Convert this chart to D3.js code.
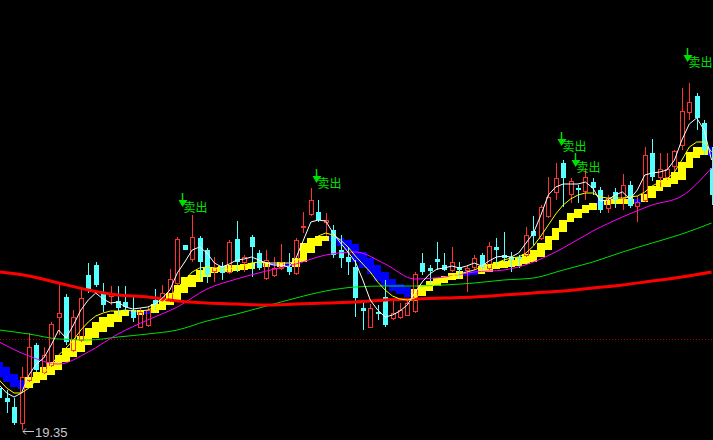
<!DOCTYPE html>
<html><head><meta charset="utf-8">
<script src="https://cdn.jsdelivr.net/npm/d3@7"></script>
<style>html,body{margin:0;padding:0;background:#000;overflow:hidden}svg{display:block}</style>
</head><body><svg id="c" width="713" height="440"></svg>
<script>
// ---- candle data (daily OHLC) ----
const open = [
20.19,19.99,19.81,19.49,20.35,21.05,20.51,20.65,21.61,22.01,
20.95,21.15,22.45,22.65,22.11,22.03,21.93,21.91,21.75,21.41,
21.45,21.95,21.95,21.95,22.29,23.05,22.77,23.19,22.95,22.53,
22.63,22.51,23.17,22.71,23.21,22.89,22.39,22.45,22.59,22.61,
22.49,23.41,23.67,23.71,23.51,23.35,22.95,22.81,22.61,21.79,
21.41,21.71,22.01,21.59,21.61,21.65,21.73,22.69,22.59,22.77,
22.65,22.55,22.61,22.55,22.61,22.85,22.59,23.01,22.85,22.81,
22.81,22.85,23.33,23.19,23.63,24.11,24.69,24.07,24.19,24.13,
24.31,24.15,23.79,24.11,23.99,24.25,23.83,23.95,24.89,24.41,
24.41,24.63,25.05,25.71,26.03,25.49,24.59];
const high = [
20.25,20.15,19.99,20.61,21.29,21.09,21.01,21.51,22.31,22.07,
21.75,22.21,22.69,22.71,22.29,22.23,22.23,22.23,22.01,21.79,
21.81,22.17,22.25,22.57,23.21,23.05,23.65,23.23,22.99,22.81,
22.71,23.15,23.53,22.85,23.25,22.95,22.95,22.81,23.07,22.89,
23.19,23.71,24.19,23.95,23.69,23.45,23.25,23.01,22.75,21.89,
21.87,21.85,22.35,21.95,21.89,21.95,22.51,22.89,22.65,23.11,
22.89,23.01,22.71,22.65,22.85,22.89,23.11,23.19,23.31,22.91,
22.85,23.41,23.63,23.85,24.41,24.69,24.75,24.39,24.25,24.59,
24.39,24.21,24.05,24.19,24.47,24.33,24.03,25.01,25.17,24.89,
24.89,24.95,26.19,26.29,26.09,25.55,25.01];
const low = [
19.91,19.69,19.45,19.35,20.31,20.51,20.47,20.61,21.25,21.05,
20.91,21.11,22.09,22.21,21.71,21.85,21.65,21.71,21.51,21.39,
21.41,21.75,21.91,21.91,22.25,22.95,22.71,22.35,22.29,22.31,
22.35,22.47,22.51,22.51,22.41,22.55,22.35,22.41,22.55,22.45,
22.45,23.29,23.63,23.51,23.23,22.79,22.59,22.45,21.61,21.35,
21.39,21.55,21.41,21.55,21.57,21.63,21.69,22.45,22.29,22.55,
22.53,22.51,22.39,22.11,22.55,22.55,22.55,22.65,22.71,22.51,
22.59,22.81,23.05,23.15,23.59,23.95,23.81,23.89,23.89,23.95,
24.05,23.69,23.69,23.79,23.75,23.79,23.51,23.91,24.33,24.21,
24.35,24.51,24.95,25.55,25.35,24.85,23.85];
const close = [
19.99,19.91,19.49,20.41,21.01,20.55,20.85,21.47,21.69,21.11,
21.61,21.99,22.15,22.25,21.85,22.09,21.79,21.81,21.59,21.71,
21.75,21.87,22.09,22.37,23.17,22.95,23.21,22.71,22.45,22.61,
22.49,23.11,22.71,22.81,23.01,22.59,22.75,22.59,22.71,22.51,
23.15,23.43,23.95,23.55,23.55,22.85,22.79,22.71,21.99,21.73,
21.79,21.67,21.45,21.69,21.75,21.89,22.47,22.51,22.53,22.71,
22.55,22.71,22.55,22.59,22.79,22.59,23.03,22.95,22.79,22.75,
22.77,23.25,23.23,23.81,24.01,24.39,24.39,24.33,24.15,24.41,
24.19,23.75,23.99,23.95,24.25,23.83,23.91,24.85,24.41,24.57,
24.57,24.93,25.73,25.91,25.59,24.95,24.05];

// ---- moving averages read per candle ----
const ma5 = [
20.25,20.09,20.01,20.09,20.45,20.67,20.79,21.05,21.35,21.19,
21.45,21.75,21.95,22.09,21.97,21.89,21.91,21.81,21.77,21.79,
21.81,21.87,21.99,22.15,22.49,22.71,22.95,23.01,22.89,22.69,
22.61,22.67,22.75,22.77,22.81,22.75,22.69,22.65,22.65,22.61,
22.79,23.15,23.51,23.55,23.53,23.29,23.09,22.91,22.71,22.35,
21.95,21.75,21.61,21.65,21.73,21.85,22.09,22.31,22.47,22.57,
22.59,22.63,22.59,22.63,22.69,22.63,22.73,22.81,22.83,22.81,
22.89,23.09,23.29,23.65,24.05,24.21,24.27,24.27,24.27,24.31,
24.19,23.93,23.95,24.05,24.11,23.97,24.15,24.45,24.49,24.51,
24.55,24.75,25.15,25.47,25.59,25.35,24.75];
const ma10 = [
20.35,20.19,20.09,20.09,20.19,20.35,20.49,20.65,20.85,20.99,
21.15,21.35,21.51,21.63,21.69,21.73,21.73,21.75,21.73,21.73,
21.75,21.81,21.91,22.03,22.19,22.35,22.51,22.59,22.61,22.59,
22.55,22.57,22.61,22.65,22.69,22.71,22.69,22.69,22.69,22.69,
22.71,22.85,23.09,23.23,23.29,23.25,23.15,23.01,22.83,22.67,
22.51,22.31,22.15,22.03,21.97,21.95,21.99,22.09,22.19,22.29,
22.37,22.43,22.47,22.51,22.55,22.61,22.65,22.69,22.75,22.79,
22.81,22.89,23.03,23.23,23.45,23.67,23.85,23.97,24.05,24.09,
24.09,24.01,23.99,23.99,23.99,24.01,24.03,24.11,24.23,24.31,
24.37,24.51,24.75,25.01,25.11,25.11,24.91];

// ---- slow averages, read every 4th candle ----
const slowStep = 4;
const ma20 = [21.11,20.83,20.67,20.91,21.27,21.55,21.81,22.17,22.37,22.53,22.67,22.85,22.91,
              22.67,22.37,22.41,22.51,22.55,22.71,22.99,23.33,23.61,23.85,24.03,24.59];
const ma60 = [21.35,21.27,21.17,21.15,21.21,21.27,21.35,21.53,21.67,21.83,21.99,22.13,22.21,
              22.23,22.23,22.25,22.29,22.35,22.39,22.55,22.71,22.91,23.09,23.27,23.49];
const ma120 = [22.51,22.43,22.29,22.15,22.05,22.01,21.93,21.89,21.87,21.85,21.87,21.89,21.91,
               21.95,21.97,21.99,22.01,22.05,22.09,22.13,22.19,22.25,22.33,22.41,22.51];

// ---- stepped trend band ----
const bandHigh = [
20.71,20.61,20.47,20.35,20.41,20.51,20.61,20.71,20.85,20.99,
21.15,21.23,21.39,21.51,21.61,21.67,21.73,21.75,21.75,21.75,
21.73,21.87,21.95,22.09,22.25,22.41,22.45,22.55,22.59,22.61,
22.63,22.65,22.65,22.67,22.69,22.71,22.71,22.71,22.71,22.71,
22.79,23.09,23.19,23.23,23.23,23.23,23.19,23.15,23.07,22.91,
22.79,22.65,22.51,22.37,22.27,22.21,22.17,22.25,22.33,22.39,
22.43,22.49,22.53,22.53,22.55,22.63,22.67,22.71,22.73,22.75,
22.79,22.87,22.95,23.09,23.23,23.39,23.55,23.69,23.77,23.85,
23.89,23.93,23.95,23.97,23.97,23.97,23.97,24.07,24.23,24.35,
24.39,24.51,24.71,24.91,25.01,25.01,25.01];
const bandLow = [
20.41,20.31,20.21,20.17,20.19,20.29,20.35,20.45,20.55,20.71,
20.81,20.91,21.05,21.19,21.31,21.41,21.51,21.63,21.67,21.65,
21.67,21.69,21.75,21.85,21.95,22.09,22.21,22.31,22.41,22.49,
22.51,22.51,22.53,22.55,22.57,22.63,22.61,22.63,22.61,22.63,
22.61,22.71,22.89,23.03,23.13,23.13,23.03,22.95,22.71,22.59,
22.47,22.33,22.23,22.13,22.07,22.01,21.93,22.03,22.13,22.23,
22.29,22.35,22.37,22.43,22.45,22.47,22.51,22.57,22.59,22.61,
22.63,22.67,22.71,22.81,22.95,23.15,23.31,23.51,23.59,23.69,
23.75,23.83,23.85,23.87,23.87,23.87,23.87,23.91,23.99,24.13,
24.21,24.27,24.35,24.59,24.79,24.85,24.83];
// u = rising (yellow), d = falling (blue)
const bandDir = ("dddd" + "uuuuuuuuuuuuuu" + "dud" + "uuuuuuuuuuuuuu" + "dudud" + "uuuuu" +
  "ddddddddddd" + "uuuuuuu" + "dd" + "uuuuuuuuuuuuuuuu" + "d" + "uuuu" + "d" + "uuuuuuuuu" + "d").split("");

const refLevel = 21.17;
const sellIdx = [25, 43, 76, 78, 93];
const sellLevel = [24.09, 24.57, 25.31, 24.89, 26.99];
const sellText = "卖出";

// ---- drawing ----
const W = 713, H = 440;
const svg = d3.select("#c");
svg.append("rect").attr("width", W).attr("height", H).attr("fill", "#000");
const n = close.length;
const x = d3.scaleLinear().domain([0, n - 1]).range([-0.76, 711.56]);
const y = d3.scaleLinear().domain([19.35, 27.95]).range([430, 0]);
const step = x(1) - x(0);

// reference dotted line
svg.append("line").attr("x1", 0).attr("x2", W)
  .attr("y1", Math.round(y(refLevel)) + 0.5).attr("y2", Math.round(y(refLevel)) + 0.5)
  .attr("stroke", "#b00000").attr("stroke-width", 1).attr("stroke-dasharray", "1,2");

// band
svg.append("g").attr("shape-rendering", "crispEdges").selectAll("rect")
  .data(d3.range(n)).join("rect")
  .attr("x", i => Math.round(x(i) - step / 2))
  .attr("width", i => Math.round(x(i) + step / 2) - Math.round(x(i) - step / 2))
  .attr("y", i => Math.round(y(bandHigh[i])))
  .attr("height", i => Math.max(2, Math.round(y(bandLow[i])) - Math.round(y(bandHigh[i]))))
  .attr("fill", i => bandDir[i] === "u" ? "#ffff00" : "#0000ff");

// candles
const UP = "#ff3232", DN = "#54ffff";
const cg = svg.append("g").attr("shape-rendering", "crispEdges");
d3.range(n).forEach(i => {
  const xc = Math.round(x(i));
  const up = close[i] >= open[i];
  const col = up ? UP : DN;
  const yH = Math.round(y(high[i])), yL = Math.round(y(low[i]));
  const yT = Math.round(y(Math.max(open[i], close[i])));
  const yB = Math.round(y(Math.min(open[i], close[i])));
  if (up) {
    if (yT > yH) cg.append("line").attr("x1", xc + 0.5).attr("x2", xc + 0.5).attr("y1", yH).attr("y2", yT).attr("stroke", col);
    if (yL > yB) cg.append("line").attr("x1", xc + 0.5).attr("x2", xc + 0.5).attr("y1", yB).attr("y2", yL).attr("stroke", col);
    cg.append("rect").attr("x", xc - 2 + 0.5).attr("y", yT + 0.5).attr("width", 4)
      .attr("height", Math.max(1, yB - yT)).attr("fill", "none").attr("stroke", col);
  } else {
    cg.append("line").attr("x1", xc + 0.5).attr("x2", xc + 0.5).attr("y1", yH).attr("y2", yL).attr("stroke", col);
    cg.append("rect").attr("x", xc - 2).attr("y", yT).attr("width", 5)
      .attr("height", Math.max(1, yB - yT)).attr("fill", col);
  }
});

// lines
function drawLine(vals, idxStep, color, width, curve) {
  svg.append("path").datum(vals)
    .attr("d", d3.line().x((d, k) => x(k * idxStep)).y(d => y(d)).curve(curve || d3.curveLinear))
    .attr("fill", "none").attr("stroke", color).attr("stroke-width", width);
}
drawLine(ma60, slowStep, "#00e000", 1, d3.curveMonotoneX);
drawLine(ma20, slowStep, "#ff00ff", 1, d3.curveMonotoneX);
drawLine(ma120, slowStep, "#ff0000", 3, d3.curveMonotoneX);
drawLine(ma10, 1, "#ffff00", 1);
drawLine(ma5, 1, "#ffffff", 1);

// lowest price marker
const iMin = d3.minIndex(low);
const tx = Math.round(x(iMin)) + 1, ty = Math.round(y(low[iMin])) + 1.5;
svg.append("path")
  .attr("d", `M${tx},${ty}L${tx + 11},${ty}M${tx},${ty}L${tx + 3},${ty - 3}M${tx},${ty}L${tx + 3},${ty + 3}`)
  .attr("stroke", "#c8c8c8").attr("fill", "none").attr("stroke-width", 1);
svg.append("text").attr("x", tx + 12).attr("y", ty + 5.5)
  .attr("font-family", "Liberation Sans, Arial, sans-serif").attr("font-size", 13)
  .attr("fill", "#c8c8c8").text(d3.format(".2f")(low[iMin]));

// sell signals
const GREEN = "#00e000";
sellIdx.forEach((i, k) => {
  const sx = Math.round(x(i) - 2.5) + 0.5, top = Math.round(y(sellLevel[k]));
  const g = svg.append("g");
  g.append("line").attr("x1", sx).attr("x2", sx).attr("y1", top).attr("y2", top + 9)
    .attr("stroke", GREEN).attr("stroke-width", 1.5);
  g.append("path").attr("d", `M${sx - 4},${top + 7}L${sx + 5},${top + 7}L${sx},${top + 14}Z`).attr("fill", GREEN);
  g.append("text").attr("x", sx + 1).attr("y", top + 19)
    .attr("font-family", "Noto Sans CJK SC, sans-serif").attr("font-size", 12)
    .attr("fill", GREEN).text(sellText);
});
</script>
</body></html>
